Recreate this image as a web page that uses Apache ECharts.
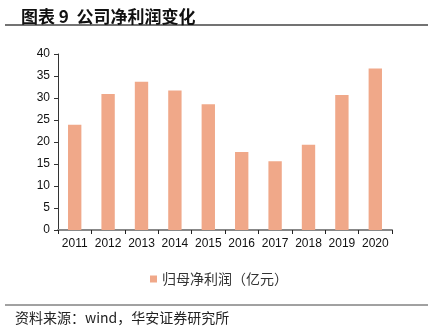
<!DOCTYPE html>
<html><head><meta charset="utf-8">
<script src="https://cdn.jsdelivr.net/npm/echarts@6/dist/echarts.min.js"></script>
<style>html,body{margin:0;padding:0;background:#fff}#c{width:428px;height:329px}</style>
</head><body><div id="c"></div>
<script>
var categories = ['2011','2012','2013','2014','2015','2016','2017','2018','2019','2020'];
var profit = [23.9, 30.9, 33.7, 31.7, 28.6, 17.7, 15.6, 19.4, 30.7, 36.7];
var yTicks = {min: 0, max: 40, interval: 5};
var seriesName = '归母净利润（亿元）';
var titleText = '图表 9  公司净利润变化';
var sourceText = '资料来源：wind，华安证券研究所';

var chart = echarts.init(document.getElementById('c'));
chart.setOption({
  animation: false,
  title: {
    text: titleText, left: 16, top: 3,
    textStyle: {fontFamily: 'Noto Sans CJK SC', fontWeight: 'bold', fontSize: 17, color: '#111'}
  },
  graphic: [
    {type: 'line', shape: {x1: 5, y1: 25, x2: 428, y2: 25}, style: {stroke: '#444', lineWidth: 1.5}},
    {type: 'line', shape: {x1: 5, y1: 305, x2: 428, y2: 305}, style: {stroke: '#444', lineWidth: 1}},
    {type: 'text', left: 15, top: 311, style: {text: sourceText, fontFamily: 'Noto Sans CJK SC', fontSize: 14, fill: '#222'}}
  ],
  legend: {
    data: [seriesName], left: 145, top: 267, icon: 'rect', itemWidth: 7, itemHeight: 7, itemGap: 3,
    textStyle: {fontFamily: 'Noto Sans CJK SC', fontSize: 14, color: '#333'}
  },
  grid: {left: 58, right: 36, top: 54, bottom: 99},
  xAxis: {
    type: 'category', data: categories,
    axisLine: {lineStyle: {color: '#888', width: 2}},
    axisTick: {show: true, length: 4, lineStyle: {color: '#222', width: 1}},
    axisLabel: {interval: 0, fontFamily: 'Liberation Sans', fontSize: 12, color: '#111', margin: 8}
  },
  yAxis: {
    type: 'value', min: yTicks.min, max: yTicks.max, interval: yTicks.interval,
    axisLine: {show: true, lineStyle: {color: '#333', width: 1}},
    axisTick: {show: true, length: 4, lineStyle: {color: '#333'}},
    splitLine: {show: false},
    axisLabel: {fontFamily: 'Liberation Sans', fontSize: 12, color: '#111', margin: 8}
  },
  series: [{
    name: seriesName, type: 'bar', data: profit, barWidth: '40%',
    itemStyle: {color: '#F0A889'}
  }]
});
</script></body></html>
